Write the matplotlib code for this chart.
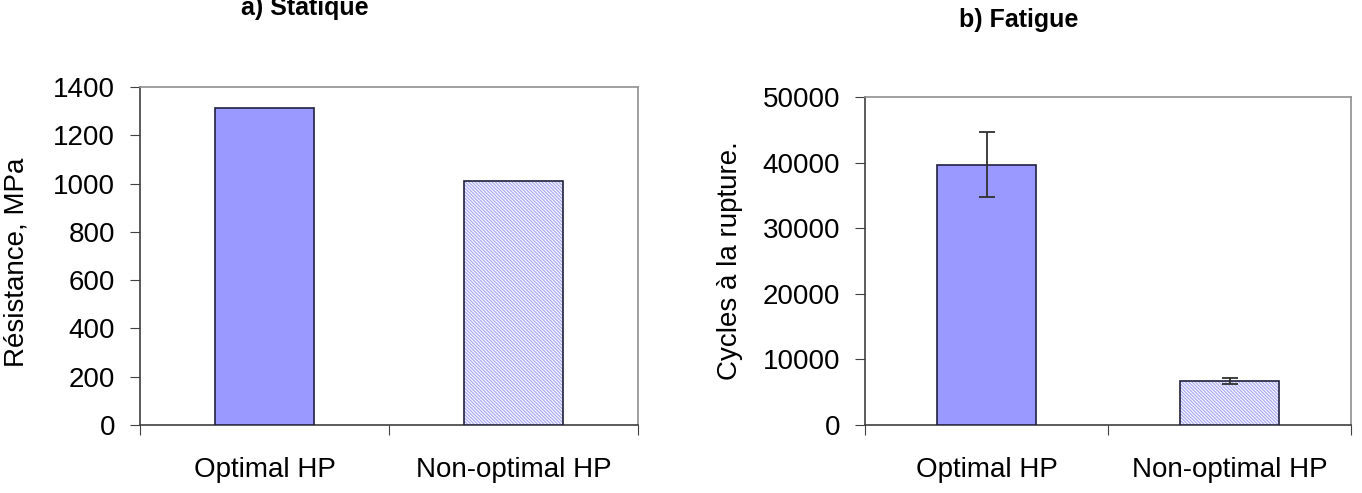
import matplotlib
matplotlib.use("Agg")
import matplotlib.pyplot as plt
import numpy as np

categories = ["Optimal HP", "Non-optimal HP"]
static_values = [1315, 1010]
fatigue_values = [39700, 6700]
fatigue_err = [5000, 450]

plt.rcParams['font.family'] = ['Liberation Sans', 'DejaVu Sans']
plt.rcParams['hatch.linewidth'] = 0.9

fig = plt.figure(figsize=(13.62, 4.93), dpi=100)
W, H = 1362, 493
ax1 = fig.add_axes([140/W, 1-425/H, 498/W, 338/H])
ax2 = fig.add_axes([865/W, 1-425/H, 486/W, 328/H])

solid = "#9999FF"
FS = 20

def style(ax, ylim, yticks):
    ax.set_xlim(0, 2)
    ax.set_ylim(*ylim)
    ax.set_yticks(yticks)
    ax.set_xticks([0, 1, 2])
    ax.set_xticklabels([])
    ax.set_xticks([0.5, 1.5], minor=True)
    ax.set_xticklabels(categories, minor=True, fontsize=FS)
    ax.tick_params(axis='x', which='minor', length=0, pad=23)
    ax.tick_params(axis='x', which='major', length=7, direction='out', color='#404040')
    ax.tick_params(axis='y', length=7, direction='out', labelsize=FS, pad=11, color='#404040')
    for s in ['top', 'right']:
        ax.spines[s].set_color('#909090')
        ax.spines[s].set_linewidth(1.2)
    for s in ['left', 'bottom']:
        ax.spines[s].set_color('#404040')
        ax.spines[s].set_linewidth(1.2)

x = np.array([0.5, 1.5])
hatch = '\\' * 10
# Static
ax1.bar(x[0], static_values[0], width=0.4, color=solid, edgecolor='#202040', linewidth=1.2, zorder=3)
ax1.bar(x[1], static_values[1], width=0.4, color='white', edgecolor='#A8A8F4', hatch=hatch, linewidth=0, zorder=3)
ax1.bar(x[1], static_values[1], width=0.4, fill=False, edgecolor='#202040', linewidth=1.2, zorder=4)
style(ax1, (0, 1400), np.arange(0, 1401, 200))
ax1.set_ylabel("Résistance, MPa", fontsize=FS)
ax1.yaxis.set_label_coords(-0.221, 0.48)

# Fatigue
ax2.bar(x[0], fatigue_values[0], width=0.41, color=solid, edgecolor='#202040', linewidth=1.2, zorder=3)
ax2.bar(x[1], fatigue_values[1], width=0.41, color='white', edgecolor='#A8A8F4', hatch=hatch, linewidth=0, zorder=3)
ax2.bar(x[1], fatigue_values[1], width=0.41, fill=False, edgecolor='#202040', linewidth=1.2, zorder=4)
ax2.errorbar(x, fatigue_values, yerr=fatigue_err, fmt='none', ecolor='#303030', elinewidth=1.3, capsize=5.5, capthick=1.3, zorder=5)
style(ax2, (0, 50000), np.arange(0, 50001, 10000))
ax2.set_ylabel("Cycles à la rupture.", fontsize=FS)
ax2.yaxis.set_label_coords(-0.251, 0.5)

fig.text(305/W, 1-8/H, "a) Statique", ha='center', va='center', fontsize=18, fontweight='bold')
fig.text(1019/W, 1-20/H, "b) Fatigue", ha='center', va='center', fontsize=18, fontweight='bold')

fig.savefig("out.png", dpi=100)
